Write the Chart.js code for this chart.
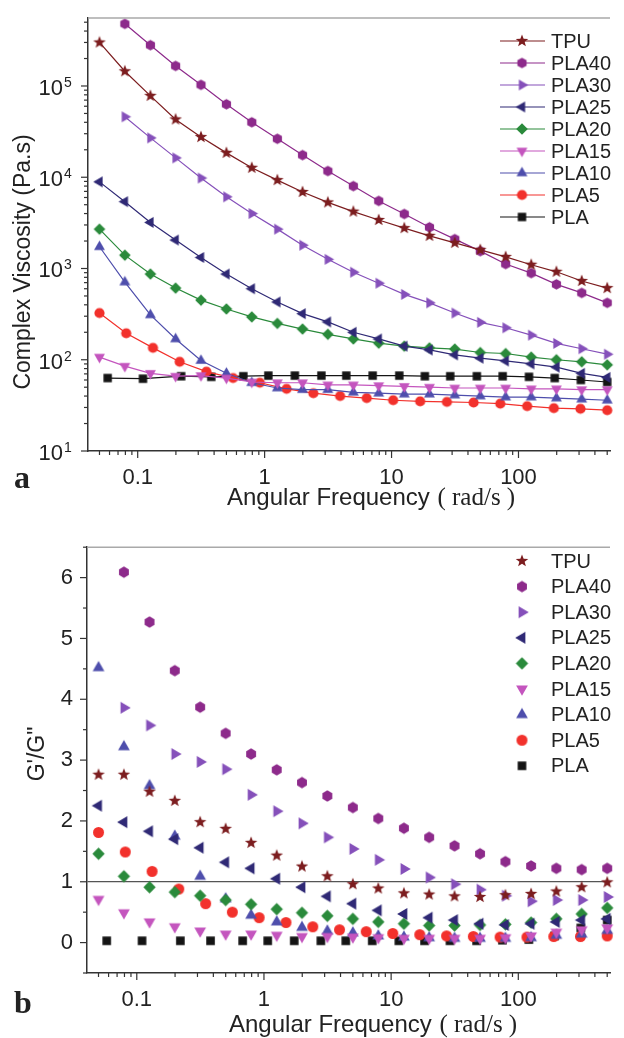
<!DOCTYPE html>
<html>
<head>
<meta charset="utf-8">
<script src="https://cdn.jsdelivr.net/npm/chart.js@4.4.1/dist/chart.umd.min.js"></script>
<style>
  html, body { margin: 0; padding: 0; background: #fff; }
  .panel { position: absolute; left: 0; width: 624px; }
  #panelA { top: 0; height: 520px; }
  #panelB { top: 520px; height: 518px; }
</style>
</head>
<body>
<div class="panel" id="panelA"><canvas id="viscChart" width="624" height="520"></canvas></div>
<div class="panel" id="panelB"><canvas id="ratioChart" width="624" height="518"></canvas></div>
<script>
// sample names, in legend order
const seriesNames = ['TPU', 'PLA40', 'PLA30', 'PLA25', 'PLA20', 'PLA15', 'PLA10', 'PLA5', 'PLA'];

// angular frequency grids (rad/s)
const freqA = [0.05, 0.0792, 0.126, 0.199, 0.315, 0.5, 0.792, 1.26, 1.99, 3.15, 5, 7.92, 12.6, 19.9, 31.5, 50, 79.2, 126, 199, 315, 500];
const freqA2 = [0.0792, 0.126, 0.199, 0.315, 0.5, 0.792, 1.26, 1.99, 3.15, 5, 7.92, 12.6, 19.9, 31.5, 50, 79.2, 126, 199, 315, 500];
const freqB = [0.05, 0.0812, 0.132, 0.214, 0.348, 0.564, 0.917, 1.49, 2.42, 3.93, 6.37, 10.3, 16.8, 27.3, 44.3, 71.9, 117, 190, 308, 500];
const freqC = [0.058, 0.11, 0.22, 0.38, 0.68, 1.07, 1.73, 2.8, 4.4, 7.1, 11.5, 18.3, 29, 47, 75, 121, 193, 310, 500];

// (a) complex viscosity, Pa.s
const etaTPU = [3.0e5, 1.45e5, 7.8e4, 4.3e4, 2.76e4, 1.85e4, 1.27e4, 9.3e3, 6.9e3, 5.3e3, 4.2e3, 3.4e3, 2.77e3, 2.28e3, 1.91e3, 1.6e3, 1.34e3, 1.1e3, 920, 730, 610];
const etaPLA40 = [4.8e5, 2.8e5, 1.66e5, 1.03e5, 6.3e4, 4.0e4, 2.64e4, 1.75e4, 1.17e4, 8.0e3, 5.5e3, 3.96e3, 2.83e3, 2.1e3, 1.55e3, 1.12e3, 890, 670, 540, 420];
const etaPLA30 = [4.6e4, 2.7e4, 1.63e4, 9.8e3, 6.1e3, 4.0e3, 2.7e3, 1.8e3, 1.26e3, 910, 690, 520, 420, 325, 257, 224, 186, 151, 132, 115];
const etaPLA25 = [8900, 5400, 3200, 2050, 1320, 870, 600, 430, 320, 260, 200, 169, 141, 128, 113, 104, 97, 90, 83, 71, 64];
const etaPLA20 = [2700, 1400, 870, 610, 450, 360, 295, 250, 217, 190, 169, 152, 141, 135, 131, 120, 117, 107, 100, 95, 88];
const etaPLA15 = [107, 85, 71, 66, 67, 63, 57, 56, 56, 53, 53, 52, 51, 50, 49, 49, 49, 48, 48, 47, 47];
const etaPLA10 = [1730, 710, 310, 169, 98, 71, 56, 49, 47, 47, 44, 43, 42, 42, 41, 40, 39, 39, 38, 37, 36];
const etaPLA5 = [325, 195, 135, 95, 74, 63, 56, 48, 43, 40, 38, 36, 35, 34.5, 34, 33, 31, 29.5, 29, 28];
const etaPLA = [63, 62, 66, 65, 66, 67, 67, 67, 67, 67, 67, 66, 66, 66, 66, 65, 63, 60, 57];

// (b) G'/G''
const ratioTPU = [2.76, 2.76, 2.48, 2.33, 1.98, 1.87, 1.64, 1.43, 1.25, 1.09, 0.96, 0.89, 0.81, 0.79, 0.76, 0.75, 0.78, 0.80, 0.84, 0.91, 0.99];
const ratioPLA40 = [6.09, 5.27, 4.47, 3.87, 3.44, 3.10, 2.84, 2.63, 2.41, 2.22, 2.04, 1.88, 1.73, 1.59, 1.46, 1.33, 1.26, 1.22, 1.20, 1.22];
const ratioPLA30 = [3.86, 3.57, 3.10, 2.97, 2.85, 2.43, 2.16, 1.96, 1.73, 1.54, 1.36, 1.21, 1.07, 0.96, 0.87, 0.77, 0.68, 0.70, 0.70, 0.75];
const ratioPLA25 = [2.25, 1.98, 1.83, 1.70, 1.56, 1.32, 1.22, 1.05, 0.91, 0.76, 0.64, 0.53, 0.47, 0.41, 0.37, 0.31, 0.29, 0.31, 0.34, 0.37, 0.39];
const ratioPLA20 = [1.46, 1.09, 0.91, 0.83, 0.77, 0.70, 0.63, 0.55, 0.49, 0.44, 0.39, 0.34, 0.31, 0.28, 0.28, 0.29, 0.30, 0.33, 0.39, 0.47, 0.57];
const ratioPLA15 = [0.71, 0.49, 0.34, 0.26, 0.19, 0.14, 0.14, 0.12, 0.10, 0.10, 0.09, 0.08, 0.07, 0.07, 0.07, 0.07, 0.08, 0.11, 0.17, 0.21, 0.24];
const ratioPLA10 = [4.52, 3.22, 2.58, 1.75, 1.09, 0.72, 0.45, 0.34, 0.25, 0.19, 0.16, 0.11, 0.09, 0.08, 0.07, 0.07, 0.07, 0.08, 0.12, 0.14, 0.20];
const ratioPLA5 = [1.81, 1.49, 1.17, 0.88, 0.64, 0.50, 0.41, 0.33, 0.26, 0.21, 0.18, 0.15, 0.13, 0.11, 0.10, 0.09, 0.09, 0.10, 0.10, 0.11];
const ratioPLA = [0.03, 0.03, 0.03, 0.03, 0.03, 0.03, 0.03, 0.03, 0.03, 0.03, 0.03, 0.03, 0.03, 0.03, 0.04, 0.05, 0.11, 0.24, 0.37];

const seriesFreq = [freqA, freqA2, freqA2, freqA, freqA, freqA, freqA, freqB, freqC];
const etaValues = [etaTPU, etaPLA40, etaPLA30, etaPLA25, etaPLA20, etaPLA15, etaPLA10, etaPLA5, etaPLA];
const ratioValues = [ratioTPU, ratioPLA40, ratioPLA30, ratioPLA25, ratioPLA20, ratioPLA15, ratioPLA10, ratioPLA5, ratioPLA];

const shapes = ['star', 'hexagon', 'triRight', 'triLeft', 'diamond', 'triDown', 'triUp', 'circle', 'square'];
const colors = ['#7c1d1f', '#8d2a8b', '#8550ba', '#2f2975', '#2a8a3b', '#c455be', '#4e4eac', '#f2312c', '#141414'];
const sizesA = { star: 6.6, hexagon: 5.3, triRight: 6.3, triLeft: 6.3, diamond: 5.8, triDown: 6.3, triUp: 6.3, circle: 5.1, square: 4.2 };
const sizesB = { star: 6.6, hexagon: 5.7, triRight: 6.8, triLeft: 6.8, diamond: 6.2, triDown: 6.8, triUp: 6.8, circle: 5.5, square: 4.3 };

const SANS = "'Liberation Sans', Arial, sans-serif";
const SERIF = "'Liberation Serif', 'Times New Roman', serif";
Chart.defaults.color = '#222';

function marker(shape, color, r) {
  const size = Math.ceil(r * 2 + 2);
  const c = document.createElement('canvas');
  c.width = c.height = size;
  const g = c.getContext('2d');
  const m = size / 2;
  g.fillStyle = color;
  g.beginPath();
  if (shape === 'circle') {
    g.arc(m, m, r, 0, Math.PI * 2);
  } else if (shape === 'square') {
    g.rect(m - r, m - r, 2 * r, 2 * r);
  } else {
    let pts = [];
    const start = { hexagon: -90, diamond: -90, triUp: -90, triDown: 90, triRight: 0, triLeft: 180, star: -90 }[shape];
    const n = { hexagon: 6, diamond: 4, star: 10 }[shape] || 3;
    for (let i = 0; i < n; i++) {
      const ang = (start + i * 360 / n) * Math.PI / 180;
      const rr = shape === 'star' && i % 2 ? r * 0.42 : r;
      pts.push([m + rr * Math.cos(ang), m + rr * Math.sin(ang)]);
    }
    pts.forEach((p, i) => (i ? g.lineTo(p[0], p[1]) : g.moveTo(p[0], p[1])));
    g.closePath();
  }
  g.fill();
  return c;
}

function drawLogTicks(ctx, scale, horizontal, edge) {
  const lo = Math.floor(Math.log10(scale.min));
  const hi = Math.ceil(Math.log10(scale.max));
  for (let e = lo; e <= hi; e++) {
    for (let k = 1; k < 10; k++) {
      const v = k * Math.pow(10, e);
      if (v < scale.min || v > scale.max) continue;
      const p = scale.getPixelForValue(v);
      const len = k === 1 ? 7 : 4;
      ctx.beginPath();
      if (horizontal) { ctx.moveTo(p, edge); ctx.lineTo(p, edge + len); }
      else { ctx.moveTo(edge, p); ctx.lineTo(edge - len, p); }
      ctx.stroke();
    }
  }
}

// frame, ticks, titles, legend
const decor = {
  id: 'decor',
  afterDraw(chart, args, o) {
    const { ctx, chartArea: a, scales: { x, y } } = chart;
    ctx.save();
    ctx.lineWidth = 1.5;
    ctx.strokeStyle = '#a9a9a9';
    ctx.beginPath(); ctx.moveTo(a.left, a.top); ctx.lineTo(a.right, a.top); ctx.stroke();

    ctx.strokeStyle = '#333';
    ctx.lineWidth = 1.2;
    drawLogTicks(ctx, x, true, a.bottom);
    if (y.type === 'logarithmic') {
      drawLogTicks(ctx, y, false, a.left);
    } else {
      y.ticks.forEach(t => {
        const p = y.getPixelForValue(t.value);
        const len = Number.isInteger(t.value) ? 7 : 4;
        ctx.beginPath(); ctx.moveTo(a.left, p); ctx.lineTo(a.left - len, p); ctx.stroke();
      });
    }

    ctx.fillStyle = '#222';
    if (o.expLabels) {
      for (let e = 1; e <= 5; e++) {
        const p = y.getPixelForValue(Math.pow(10, e));
        ctx.font = '22px ' + SANS;
        ctx.textAlign = 'right';
        ctx.textBaseline = 'alphabetic';
        ctx.fillText('10', a.left - 25, p + 9);
        ctx.font = '14px ' + SANS;
        ctx.textAlign = 'left';
        ctx.fillText(String(e), a.left - 24, p + 1);
      }
    }

    // x title: sans words, serif units
    ctx.textAlign = 'left';
    ctx.textBaseline = 'alphabetic';
    ctx.font = '24px ' + SANS;
    const words = 'Angular Frequency ';
    ctx.fillText(words, o.xTitleX, o.xTitleY);
    const w = ctx.measureText(words).width;
    ctx.font = '25px ' + SERIF;
    ctx.fillText('( rad/s )', o.xTitleX + w + 1, o.xTitleY);

    // y title
    ctx.save();
    ctx.translate(o.yTitleX, o.yTitleY);
    ctx.rotate(-Math.PI / 2);
    ctx.textAlign = 'center';
    ctx.font = '23px ' + SANS;
    ctx.fillText(o.yTitle, 0, 0);
    ctx.restore();

    // panel letter
    ctx.font = 'bold 32px ' + SERIF;
    ctx.fillText(o.panel, 14, o.panelY);

    // legend
    ctx.font = '20px ' + SANS;
    ctx.textBaseline = 'middle';
    chart.data.datasets.forEach((ds, i) => {
      const ly = o.legendY0 + i * o.legendDy;
      if (o.legendLine) {
        ctx.strokeStyle = ds.borderColor;
        ctx.lineWidth = 1.2;
        ctx.beginPath(); ctx.moveTo(o.legendX - 22, ly); ctx.lineTo(o.legendX + 23, ly); ctx.stroke();
      }
      const img = ds.pointStyle;
      ctx.drawImage(img, o.legendX - img.width / 2, ly - img.height / 2);
      ctx.fillStyle = '#222';
      ctx.fillText(ds.label, o.legendX + 29, ly + 1);
    });
    ctx.restore();
  }
};

function isDecade(v) {
  const l = Math.log10(v);
  return Math.abs(l - Math.round(l)) < 1e-6;
}

function xAxis(height) {
  return {
    type: 'logarithmic',
    min: 0.0406,
    max: 526,
    grid: { display: false, drawTicks: false },
    border: { display: true, color: '#333', width: 1.5 },
    ticks: {
      autoSkip: false,
      maxRotation: 0,
      padding: 14,
      font: { family: SANS, size: 22 },
      color: '#222',
      callback: v => (isDecade(v) ? String(+v.toPrecision(3)) : '')
    },
    afterFit(s) { s.height = height; }
  };
}

function buildData(values, sizes, withLine) {
  return seriesNames.map((name, i) => ({
    label: name,
    data: values[i].map((v, j) => ({ x: seriesFreq[i][j], y: v })),
    borderColor: colors[i],
    backgroundColor: colors[i],
    borderWidth: withLine ? 1.2 : 0,
    showLine: withLine,
    tension: 0,
    pointStyle: marker(shapes[i], colors[i], sizes[shapes[i]]),
    pointRadius: 5,
    clip: false
  }));
}

new Chart(document.getElementById('viscChart'), {
  type: 'line',
  data: { datasets: buildData(etaValues, sizesA, true) },
  options: {
    responsive: false,
    animation: false,
    layout: { padding: { top: 18, right: 0, bottom: 0, left: 0 } },
    plugins: {
      legend: { display: false },
      tooltip: { enabled: false },
      decor: {
        expLabels: true,
        xTitleX: 227, xTitleY: 505,
        yTitle: 'Complex Viscosity (Pa.s)', yTitleX: 30, yTitleY: 262,
        panel: 'a', panelY: 488,
        legendX: 522, legendY0: 41, legendDy: 22, legendLine: true
      }
    },
    scales: {
      x: xAxis(69),
      y: {
        type: 'logarithmic',
        min: 10,
        max: 5.56e5,
        grid: { display: false, drawTicks: false },
        border: { display: true, color: '#333', width: 1.5 },
        ticks: { display: false },
        afterFit(s) { s.width = 88; }
      }
    }
  },
  plugins: [decor]
});

new Chart(document.getElementById('ratioChart'), {
  type: 'scatter',
  data: { datasets: buildData(ratioValues, sizesB, false) },
  options: {
    responsive: false,
    animation: false,
    layout: { padding: { top: 21, right: 0, bottom: 0, left: 0 } },
    plugins: {
      legend: { display: false },
      tooltip: { enabled: false },
      decor: {
        expLabels: false,
        xTitleX: 229, xTitleY: 512,
        yTitle: 'G\'/G"', yTitleX: 44, yTitleY: 234,
        panel: 'b', panelY: 493,
        legendX: 522, legendY0: 41, legendDy: 25.6, legendLine: false
      }
    },
    scales: {
      x: xAxis(65),
      y: {
        type: 'linear',
        min: -0.5,
        max: 6.5,
        grid: {
          drawTicks: false,
          lineWidth: 1.2,
          color: c => (c.tick && c.tick.value === 1 ? '#555' : 'rgba(0,0,0,0)')
        },
        border: { display: true, color: '#333', width: 1.5 },
        ticks: {
          stepSize: 0.5,
          padding: 14,
          font: { family: SANS, size: 22 },
          color: '#222',
          callback: v => (Number.isInteger(v) ? String(v) : '')
        },
        afterFit(s) { s.width = 87; }
      }
    }
  },
  plugins: [decor]
});
</script>
</body>
</html>
